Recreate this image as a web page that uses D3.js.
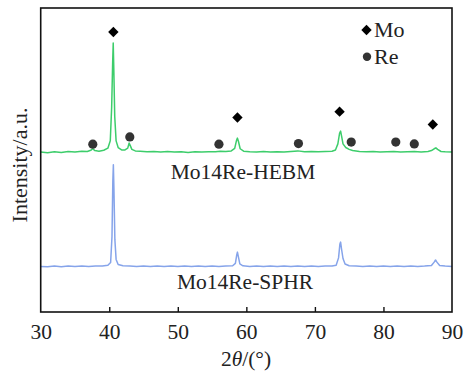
<!DOCTYPE html>
<html><head><meta charset="utf-8">
<script src="https://cdn.jsdelivr.net/npm/d3@7"></script>
<style>body{margin:0;background:#fff}svg{display:block}text{font-family:"Liberation Serif","Times New Roman",serif;fill:#222}</style>
</head><body><svg id="c" width="467" height="377"></svg>
<script>
const xTicks = [30, 40, 50, 60, 70, 80, 90];
const seriesNames = ["Mo14Re-HEBM", "Mo14Re-SPHR"];
const offsets = [52.3, 14.8];
const hebm = [[30,0.3],[31,0.1],[32,0.4],[33,0.2],[34,0.5],[35,0.3],[36,0.6],[36.8,0.5],[37.3,0.9],[37.6,1.4],[37.9,0.8],[38.5,0.6],[39.2,0.9],[39.8,1.6],[40.15,4],[40.35,15],[40.5,30],[40.58,36.2],[40.66,28],[40.8,12],[41.0,4],[41.3,1.8],[41.8,1.0],[42.3,1.0],[42.7,1.6],[42.9,3.3],[43.05,2.5],[43.3,1.2],[43.8,0.7],[44.5,0.6],[45.5,0.4],[46.5,0.5],[47.5,0.3],[48.5,0.5],[49.5,0.3],[50.5,0.4],[51.5,0.2],[52.5,0.4],[53.5,0.3],[54.5,0.4],[55.5,0.4],[56.2,0.6],[57.0,0.5],[57.8,0.7],[58.3,1.5],[58.55,4.0],[58.7,4.9],[58.85,3.8],[59.1,1.4],[59.6,0.6],[60.5,0.4],[61.5,0.3],[62.5,0.5],[63.5,0.3],[64.5,0.4],[65.5,0.3],[66.5,0.5],[67.5,0.7],[68.5,0.4],[69.5,0.5],[70.5,0.4],[71.5,0.5],[72.5,0.6],[73.0,1.0],[73.35,3],[73.6,6.5],[73.75,7.2],[73.9,5.5],[74.1,3.0],[74.5,1.8],[75,1.2],[75.5,0.8],[76.5,0.5],[77.5,0.4],[78.5,0.5],[79.5,0.3],[80.5,0.4],[81.5,0.5],[82.5,0.3],[83.5,0.4],[84.5,0.5],[85.5,0.3],[86.5,0.5],[87.0,0.8],[87.4,1.4],[87.65,1.7],[87.9,1.2],[88.4,0.5],[89,0.4],[90,0.3]];
const sphr = [[30,0.2],[31,0.1],[32,0.3],[33,0.1],[34,0.3],[35,0.2],[36,0.3],[37,0.2],[38,0.3],[39,0.3],[39.8,0.6],[40.2,1.5],[40.4,10],[40.52,28],[40.6,33.6],[40.68,26],[40.82,9],[41.0,2.5],[41.3,0.8],[42,0.4],[43,0.3],[44,0.2],[45,0.3],[46,0.2],[47,0.3],[48,0.2],[49,0.3],[50,0.2],[51,0.3],[52,0.2],[53,0.3],[54,0.2],[55,0.3],[56,0.2],[57,0.3],[58,0.4],[58.4,1.2],[58.6,4.0],[58.7,4.9],[58.82,3.6],[59.05,1.0],[59.5,0.4],[60.5,0.2],[61.5,0.3],[62.5,0.2],[63.5,0.3],[64.5,0.2],[65.5,0.3],[66.5,0.2],[67.5,0.3],[68.5,0.2],[69.5,0.3],[70.5,0.2],[71.5,0.3],[72.5,0.3],[73.1,0.6],[73.45,3],[73.65,7.6],[73.75,8.2],[73.88,6.0],[74.1,2.8],[74.4,1.0],[75,0.4],[76,0.3],[77,0.2],[78,0.3],[79,0.2],[80,0.3],[81,0.2],[82,0.3],[83,0.2],[84,0.3],[85,0.2],[86,0.3],[87,0.5],[87.4,1.6],[87.6,2.3],[87.8,1.6],[88.2,0.5],[89,0.3],[90,0.2]];
const moMarkers = [[40.6,92.1],[58.7,64.0],[73.6,65.9],[87.2,61.7]];
const reMarkers = [[37.6,55.2],[43.0,57.6],[56.0,55.2],[67.6,55.4],[75.3,55.9],[81.8,55.9],[84.5,55.3]];
const colors = ["#3dcd6b","#86a4ea"];

const svg = d3.select("#c");
const m = {l:40.7, r:452, t:8, b:312};
const x = d3.scaleLinear().domain([30,90]).range([m.l,m.r]);
const y = d3.scaleLinear().domain([0,100]).range([m.b,m.t]);

const line = d3.line().x(d=>x(d[0])).y(d=>y(d[1]));
[hebm, sphr].forEach((s,i)=>{
  svg.append("path").datum(s.map(d=>[d[0], d[1]+offsets[i]]))
    .attr("d", line).attr("fill","none").attr("stroke",colors[i]).attr("stroke-width",1.5).attr("stroke-linejoin","round");
});

const sq = d3.symbol().type(d3.symbolSquare).size(54);
svg.selectAll(".mo").data(moMarkers).join("path")
  .attr("d", sq).attr("transform",d=>`translate(${x(d[0])},${y(d[1])}) rotate(45)`).attr("fill","#000");
svg.selectAll(".re").data(reMarkers).join("circle")
  .attr("cx",d=>x(d[0])).attr("cy",d=>y(d[1])).attr("r",4.6).attr("fill","#333");

// legend
svg.append("path").attr("d", sq()).attr("transform","translate(366.5,30) rotate(45)").attr("fill","#000");
svg.append("text").attr("x",374).attr("y",37).attr("font-size",22).text("Mo");
svg.append("circle").attr("cx",367).attr("cy",56.7).attr("r",4.2).attr("fill","#333");
svg.append("text").attr("x",374).attr("y",64).attr("font-size",22).text("Re");

// series labels
svg.append("text").attr("x",243).attr("y",179).attr("text-anchor","middle").attr("font-size",21.5).text(seriesNames[0]);
svg.append("text").attr("x",245).attr("y",289).attr("text-anchor","middle").attr("font-size",21.5).text(seriesNames[1]);

// frame
svg.append("rect").attr("x",m.l).attr("y",m.t).attr("width",m.r-m.l).attr("height",m.b-m.t).attr("fill","none").attr("stroke","#111").attr("stroke-width",1.6);

const ax = svg.append("g").attr("transform",`translate(0,${m.b})`)
  .call(d3.axisBottom(x).tickValues(xTicks).tickSizeInner(-5).tickSizeOuter(0).tickPadding(12).tickFormat(d3.format("d")));
ax.select(".domain").remove();
ax.selectAll("line").attr("stroke","#111").attr("stroke-width",1.4);
ax.selectAll(".tick").filter(d=>d===30||d===90).select("line").remove();
ax.selectAll("text").attr("font-size",21.5).attr("fill","#222").style("font-family","Liberation Serif");

const xt = svg.append("text").attr("x",246).attr("y",366).attr("text-anchor","middle").attr("font-size",21.5);
xt.append("tspan").text("2");
xt.append("tspan").attr("font-style","italic").text("θ");
xt.append("tspan").text("/(°)");

svg.append("text").attr("transform","translate(27,165) rotate(-90)").attr("text-anchor","middle").attr("font-size",22).text("Intensity/a.u.");
</script></body></html>
